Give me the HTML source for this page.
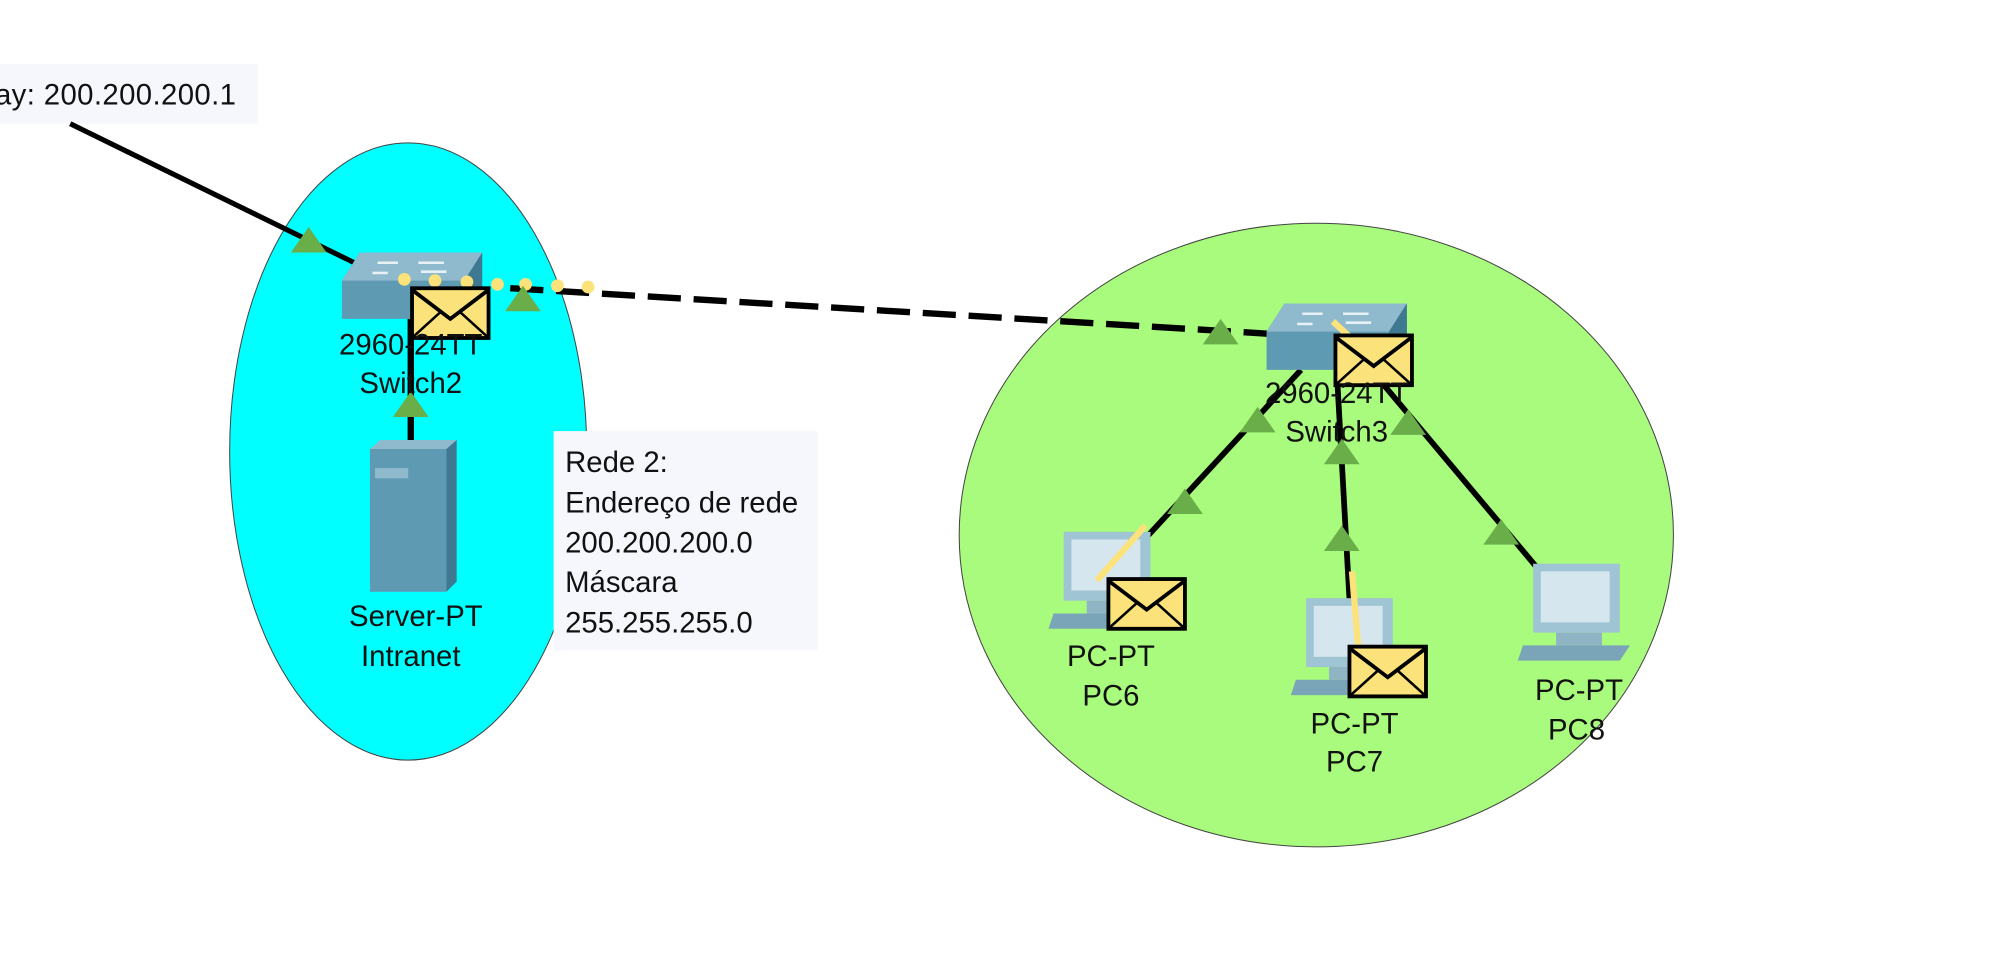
<!DOCTYPE html>
<html><head><meta charset="utf-8"><style>
html,body{margin:0;padding:0;background:#fff;width:2000px;height:966px;overflow:hidden}
svg{display:block}
text{font-family:"Liberation Sans",Arial,sans-serif;fill:#111}
</style></head><body>
<svg width="2000" height="966" viewBox="0 0 1568 757.4" xmlns="http://www.w3.org/2000/svg">
<defs>
<g id="tri"><polygon points="0,-11 14,9 -14,9" fill="#6aae4a"/></g>
<g id="env"><rect x="0" y="0" width="60" height="39" fill="#fbe27a" stroke="#000" stroke-width="3"/><polyline points="1,2 30,24 59,2" fill="none" stroke="#000" stroke-width="3"/><line x1="1" y1="38" x2="22" y2="19" stroke="#000" stroke-width="2"/><line x1="59" y1="38" x2="38" y2="19" stroke="#000" stroke-width="2"/></g>
<g id="sw"><polygon points="0,22 14,0 110,0 110,30 96,52 0,52" fill="#5f9ab3"/><polygon points="0,22 14,0 110,0 96,22" fill="#8fb9cc"/><polygon points="96,22 110,0 110,30 96,52" fill="#3f7891"/><g stroke="#e8f2f6" stroke-width="2"><line x1="28" y1="8" x2="44" y2="8"/><line x1="60" y1="8" x2="80" y2="8"/><line x1="24" y1="16" x2="36" y2="16"/><line x1="62" y1="15" x2="82" y2="15"/></g></g>
<g id="pc"><rect x="12" y="0" width="68" height="54" fill="#9fc4d3"/><rect x="18" y="6" width="54" height="40" fill="#d6e6ee"/><rect x="30" y="54" width="36" height="10" fill="#8fb4c4"/><polygon points="4,64 88,64 80,76 0,76" fill="#7aa5b8"/></g>
</defs>
<ellipse cx="320" cy="354" rx="140" ry="242" fill="#00ffff" stroke="#444" stroke-width="0.8"/>
<ellipse cx="1032" cy="419.5" rx="280" ry="244.5" fill="#a8fb7d" stroke="#444" stroke-width="0.8"/>
<rect x="0" y="50" width="202" height="47" fill="#f5f7fc"/>
<text x="-4" y="82" font-size="23" letter-spacing="0.3">ay: 200.200.200.1</text>
<line x1="55" y1="97" x2="290" y2="212" stroke="#000" stroke-width="4"/>
<line x1="322" y1="250" x2="322" y2="352" stroke="#000" stroke-width="5"/>
<line x1="400" y1="226" x2="1000" y2="262" stroke="#000" stroke-width="5" stroke-dasharray="26,10"/>
<line x1="1020" y1="290" x2="900" y2="420" stroke="#000" stroke-width="4.5"/>
<line x1="1048" y1="290" x2="1058" y2="470" stroke="#000" stroke-width="4.5"/>
<line x1="1075" y1="290" x2="1205" y2="445" stroke="#000" stroke-width="4.5"/>
<use href="#sw" x="268" y="198"/>
<use href="#sw" x="993" y="238"/>
<g fill="#fbe27a"><circle cx="317" cy="219" r="5"/><circle cx="341" cy="220" r="5"/><circle cx="366" cy="221" r="5"/><circle cx="390" cy="223" r="5"/><circle cx="412" cy="223" r="5"/><circle cx="437" cy="224" r="5"/><circle cx="461" cy="225" r="5"/></g>
<rect x="290" y="352" width="60" height="112" fill="#5f9ab3"/><polygon points="290,352 298,345 358,345 350,352" fill="#8fb9cc"/><polygon points="350,352 358,345 358,456 350,464" fill="#3f7891"/><rect x="294" y="367" width="26" height="8" fill="#8fb9cc"/>
<use href="#pc" x="822" y="417"/>
<use href="#pc" x="1012" y="469"/>
<use href="#pc" x="1190" y="442"/>
<line x1="860" y1="455" x2="898" y2="412" stroke="#fbe27a" stroke-width="5"/>
<line x1="1060" y1="448" x2="1065" y2="510" stroke="#fbe27a" stroke-width="5"/>
<line x1="1045" y1="252" x2="1070" y2="275" stroke="#fbe27a" stroke-width="5"/>
<use href="#tri" x="242" y="189"/><use href="#tri" x="322" y="318"/><use href="#tri" x="410" y="235"/>
<use href="#tri" x="957" y="261"/><use href="#tri" x="986" y="330"/><use href="#tri" x="929" y="394"/>
<use href="#tri" x="1052" y="355"/><use href="#tri" x="1052" y="423"/><use href="#tri" x="1104" y="332"/><use href="#tri" x="1177" y="418"/>
<use href="#env" x="323" y="226"/><use href="#env" x="1047" y="263"/><use href="#env" x="869" y="454"/><use href="#env" x="1058" y="507"/>
<g font-size="23" text-anchor="middle">
<text x="322" y="278">2960-24TT</text><text x="322" y="308">Switch2</text>
<text x="326" y="491">Server-PT</text><text x="322" y="522">Intranet</text>
<text x="1048" y="316">2960-24TT</text><text x="1048" y="346">Switch3</text>
<text x="871" y="522">PC-PT</text><text x="871" y="553">PC6</text>
<text x="1062" y="575">PC-PT</text><text x="1062" y="605">PC7</text>
<text x="1238" y="549">PC-PT</text><text x="1236" y="580">PC8</text>
</g>
<rect x="434" y="338" width="207" height="172" fill="#f5f7fc"/>
<g font-size="23"><text x="443" y="370">Rede 2:</text><text x="443" y="402">Endereço de rede</text><text x="443" y="433">200.200.200.0</text><text x="443" y="464">Máscara</text><text x="443" y="496">255.255.255.0</text></g>
</svg>
</body></html>
